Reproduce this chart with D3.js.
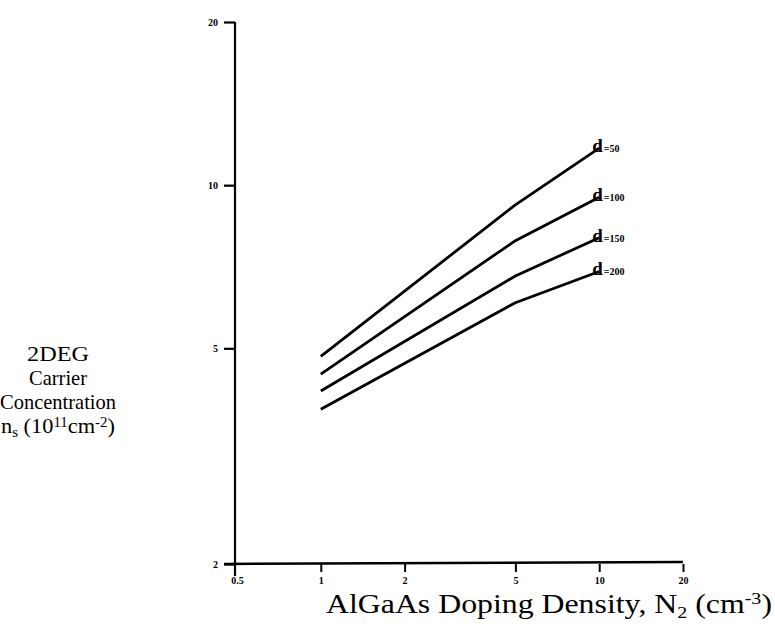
<!DOCTYPE html>
<html>
<head>
<meta charset="utf-8">
<script src="https://cdn.jsdelivr.net/npm/d3@7"></script>
<style>
  body { margin: 0; background: #fff; }
  svg { display: block; }
  .tick text { font-family: "Liberation Serif", serif; font-weight: bold; font-size: 10px; }
  .title { font-family: "Liberation Serif", "Times New Roman", serif; fill: #000; }
</style>
</head>
<body>
<svg id="chart" width="775" height="628"></svg>
<script>
'use strict';

// doping density (x) and sheet concentration for each spacer thickness d
var dopingX = [1, 5, 10];
var spacers = ['50', '100', '150', '200'];
var nsD50 = [4.83, 9.2, 11.7];
var nsD100 = [4.48, 7.9, 9.5];
var nsD150 = [4.17, 6.8, 8.0];
var nsD200 = [3.86, 6.07, 6.93];
var xTicks = [0.5, 1, 2, 5, 10, 20];
var xTickLabels = ['0.5', '1', '2', '5', '10', '20'];
var yTicks = [2, 5, 10, 20];
var yTickLabels = ['2', '5', '10', '20'];

var seriesList = [nsD50, nsD100, nsD150, nsD200];

var svg = d3.select('#chart');

var x = d3.scaleLog().domain([0.5, 20]).range([237, 683]);
var y = d3.scaleLog().domain([2, 20]).range([564, 22]);

// axes
var xAxis = d3.axisBottom(x)
  .tickValues(xTicks)
  .tickFormat(function(d, i) { return xTickLabels[i]; })
  .tickSize(8)
  .tickSizeOuter(0);

var yAxis = d3.axisLeft(y)
  .tickValues(yTicks)
  .tickFormat(function(d, i) { return yTickLabels[i]; })
  .tickSize(11)
  .tickSizeOuter(0);

var gx = svg.append('g').attr('transform', 'translate(0,564)').call(xAxis);
gx.select('.domain').remove();
gx.selectAll('.tick line').attr('stroke-width', 2);
gx.selectAll('.tick text').attr('dy', '0.9em');
// 0.5 label sits on the y axis, no tick there
gx.selectAll('.tick').filter(function(d) { return d === 0.5; }).select('line').remove();

var gy = svg.append('g').attr('transform', 'translate(235,0)').call(yAxis);
gy.select('.domain').remove();
gy.selectAll('.tick line').attr('stroke-width', 2.2);
gy.selectAll('.tick text').attr('x', -17);

// axis lines drawn by hand so the y axis runs a bit past the x axis
svg.append('line')
  .attr('x1', 235).attr('x2', 235)
  .attr('y1', y(20)).attr('y2', 576)
  .attr('stroke', '#000').attr('stroke-width', 2.2);
svg.append('line')
  .attr('x1', 224).attr('x2', x(20))
  .attr('y1', 564).attr('y2', 562)
  .attr('stroke', '#000').attr('stroke-width', 2.5);

// data lines
var line = d3.line()
  .x(function(d, i) { return x(dopingX[i]); })
  .y(function(d) { return y(d); });

seriesList.forEach(function(s, k) {
  svg.append('path')
    .datum(s)
    .attr('d', line)
    .attr('fill', 'none')
    .attr('stroke', '#000')
    .attr('stroke-width', 2.8);

  var lx = x(dopingX[dopingX.length - 1]);
  var ly = y(s[s.length - 1]);
  var lab = svg.append('text')
    .attr('class', 'title')
    .attr('x', lx - 7)
    .attr('y', ly + 4);
  lab.append('tspan').attr('font-size', 19).attr('font-weight', 'bold').text('d');
  lab.append('tspan').attr('font-size', 10).attr('font-weight', 'bold').attr('dx', 1).text('=' + spacers[k]);
});

// y axis title
var yTitle = ['2DEG', 'Carrier', 'Concentration'];
var yTitleW = [62, 58, 116];
yTitle.forEach(function(t, i) {
  svg.append('text')
    .attr('class', 'title')
    .attr('x', 58)
    .attr('y', 361 + i * 24)
    .attr('text-anchor', 'middle')
    .attr('font-size', 21)
    .attr('textLength', yTitleW[i])
    .attr('lengthAdjust', 'spacingAndGlyphs')
    .text(t);
});
var ns = svg.append('text')
  .attr('class', 'title')
  .attr('x', 1)
  .attr('y', 433)
  .attr('font-size', 21)
  .attr('textLength', 114)
  .attr('lengthAdjust', 'spacingAndGlyphs');
ns.append('tspan').text('n');
ns.append('tspan').attr('font-size', 14).attr('dy', 4).text('s');
ns.append('tspan').attr('dy', -4).text(' (10');
ns.append('tspan').attr('font-size', 14).attr('dy', -6).text('11');
ns.append('tspan').attr('dy', 6).text('cm');
ns.append('tspan').attr('font-size', 14).attr('dy', -6).text('-2');
ns.append('tspan').attr('dy', 6).text(')');

// x axis title
var xt = svg.append('text')
  .attr('class', 'title')
  .attr('x', 326)
  .attr('y', 613)
  .attr('font-size', 27)
  .attr('textLength', 446)
  .attr('lengthAdjust', 'spacingAndGlyphs');
xt.append('tspan').text('AlGaAs Doping Density, N');
xt.append('tspan').attr('font-size', 17).attr('dy', 5).text('2');
xt.append('tspan').attr('dy', -5).text(' (cm');
xt.append('tspan').attr('font-size', 17).attr('dy', -9).text('-3');
xt.append('tspan').attr('dy', 9).text(')');
</script>
</body>
</html>
